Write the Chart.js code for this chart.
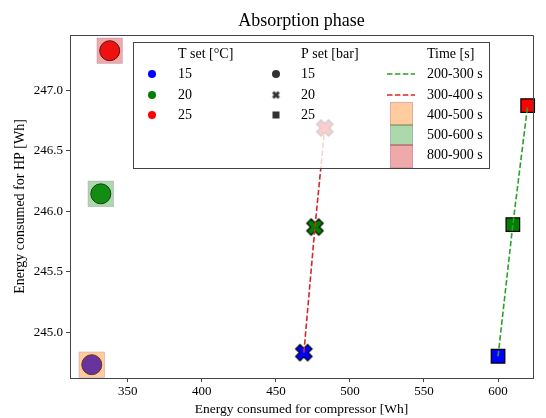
<!DOCTYPE html>
<html>
<head>
<meta charset="utf-8">
<script src="https://cdn.jsdelivr.net/npm/chart.js@4.4.1/dist/chart.umd.min.js"></script>
<style>
  html, body { margin: 0; padding: 0; background: #fff; overflow: hidden; }
  #wrap { width: 546px; height: 418px; }
</style>
</head>
<body>
<div id="wrap"><canvas id="chart"></canvas></div>
<script>
// data
const tSet = [15, 20, 25];          // T set [°C]
const pSet = [15, 20, 25];          // P set [bar]

// P = 15 bar (circles), order T = 15, 20, 25
const circleX = [325.7, 331.8, 337.8];
const circleY = [244.73, 246.145, 247.33];
// P = 20 bar (crosses)
const crossX = [468.9, 476.4, 483.0];
const crossY = [244.83, 245.87, 246.69];
// P = 25 bar (squares)
const squareX = [600.0, 610.0, 620.0];
const squareY = [244.80, 245.89, 246.875];

const timeLabels = ['200-300 s', '300-400 s', '400-500 s', '500-600 s', '800-900 s'];

const xTicks = [350, 400, 450, 500, 550, 600];
const yTicks = [245.0, 245.5, 246.0, 246.5, 247.0];

const chartTitle = 'Absorption phase';

// styles
const FONT = "'Liberation Serif', 'DejaVu Serif', serif";
const tColors = ['#0000ff', '#008000', '#ff0000'];
const patchColors = ['rgba(255,127,14,0.4)', 'rgba(44,160,44,0.4)', 'rgba(214,39,40,0.4)'];
const lineGreen = '#2ca02c';
const lineRed = '#d62728';

// filled "X" marker like matplotlib
function makeX(color, half, stroke) {
    const size = Math.ceil(half * 2 + 4);
    const c = document.createElement('canvas');
    c.width = size;
    c.height = size;
    const g = c.getContext('2d');
    const s = half * 0.74;
    const w = s * 0.36;
    const pts = [
        [-w, -s], [w, -s], [w, -w], [s, -w], [s, w], [w, w],
        [w, s], [-w, s], [-w, w], [-s, w], [-s, -w], [-w, -w]
    ];
    const a = Math.PI / 4;
    g.translate(size / 2, size / 2);
    g.beginPath();
    pts.forEach((p, i) => {
        const x = p[0] * Math.cos(a) - p[1] * Math.sin(a);
        const y = p[0] * Math.sin(a) + p[1] * Math.cos(a);
        if (i === 0) g.moveTo(x, y); else g.lineTo(x, y);
    });
    g.closePath();
    g.fillStyle = color;
    g.fill();
    if (stroke) {
        g.lineWidth = 1.2;
        g.strokeStyle = '#000';
        g.stroke();
    }
    return c;
}

const datasets = [];

// markers
tSet.forEach((t, i) => {
    datasets.push({
        label: 'circle ' + t,
        data: [{x: circleX[i], y: circleY[i]}],
        pointStyle: 'circle',
        pointRadius: 10,
        backgroundColor: tColors[i],
        borderColor: '#000',
        borderWidth: 1,
        clip: false,
        order: 3
    });
    datasets.push({
        label: 'cross ' + t,
        data: [{x: crossX[i], y: crossY[i]}],
        pointStyle: makeX(tColors[i], 11.5, true),
        pointRadius: 12,
        clip: false,
        order: 3
    });
    datasets.push({
        label: 'square ' + t,
        data: [{x: squareX[i], y: squareY[i]}],
        pointStyle: 'rect',
        pointRadius: 9.6,
        backgroundColor: tColors[i],
        borderColor: '#000',
        borderWidth: 1.2,
        clip: false,
        order: 3
    });
});

// time patches over the circles (400-500, 500-600, 800-900 s)
tSet.forEach((t, i) => {
    datasets.push({
        label: timeLabels[i + 2],
        data: [{x: circleX[i], y: circleY[i]}],
        pointStyle: 'rect',
        pointRadius: 18,
        backgroundColor: patchColors[i],
        borderColor: 'rgba(170,120,170,0.35)',
        borderWidth: 1,
        clip: false,
        order: 2
    });
});

// dashed lines
datasets.push({
    label: timeLabels[0],
    type: 'line',
    data: squareX.map((x, i) => ({x: x, y: squareY[i]})),
    borderColor: lineGreen,
    borderWidth: 1.6,
    borderDash: [5.5, 2.4],
    pointRadius: 0,
    fill: false,
    order: 1
});
datasets.push({
    label: timeLabels[1],
    type: 'line',
    data: crossX.map((x, i) => ({x: x, y: crossY[i]})),
    borderColor: lineRed,
    borderWidth: 1.6,
    borderDash: [5.5, 2.4],
    pointRadius: 0,
    fill: false,
    order: 1
});

// title, frame and legend box
const customLegend = {
    id: 'customLegend',
    afterDraw(chart) {
        const ctx = chart.ctx;
        const a = chart.chartArea;

        ctx.save();
        // title centred over the plot area
        ctx.font = '18px ' + FONT;
        ctx.fillStyle = '#000';
        ctx.textAlign = 'center';
        ctx.textBaseline = 'middle';
        ctx.fillText(chartTitle, (a.left + a.right) / 2, 21);

        // top & right spines
        ctx.strokeStyle = '#444';
        ctx.lineWidth = 1;
        ctx.beginPath();
        ctx.moveTo(a.left, a.top + 0.5);
        ctx.lineTo(a.right + 0.5, a.top + 0.5);
        ctx.lineTo(a.right + 0.5, a.bottom);
        ctx.stroke();

        const bx = 133, by = 42, bw = 356, bh = 126;
        ctx.fillStyle = 'rgba(255,255,255,0.8)';
        ctx.fillRect(bx, by, bw, bh);

        const rows = [74, 95, 115, 135, 155];
        ctx.font = '14px ' + FONT;
        ctx.fillStyle = '#000';
        ctx.textAlign = 'left';
        ctx.fillText('T set [°C]', 178, 54);
        ctx.fillText('P set [bar]', 301, 54);
        ctx.fillText('Time [s]', 427, 54);

        // T set
        tSet.forEach((t, i) => {
            ctx.beginPath();
            ctx.arc(152, rows[i], 4, 0, Math.PI * 2);
            ctx.fillStyle = tColors[i];
            ctx.fill();
            ctx.fillStyle = '#000';
            ctx.fillText(String(t), 178, rows[i]);
        });

        // P set
        ctx.fillStyle = '#333';
        ctx.beginPath();
        ctx.arc(276, rows[0], 4, 0, Math.PI * 2);
        ctx.fill();
        const xm = makeX('#333', 5.5, false);
        ctx.drawImage(xm, 276 - xm.width / 2, rows[1] - xm.height / 2);
        ctx.fillRect(272.5, rows[2] - 3.5, 7, 7);
        ctx.fillStyle = '#000';
        pSet.forEach((p, i) => ctx.fillText(String(p), 301, rows[i]));

        // Time lines
        ctx.lineWidth = 1.6;
        ctx.setLineDash([5.5, 2.4]);
        [lineGreen, lineRed].forEach((c, i) => {
            ctx.strokeStyle = c;
            ctx.beginPath();
            ctx.moveTo(387, rows[i]);
            ctx.lineTo(415, rows[i]);
            ctx.stroke();
        });
        ctx.setLineDash([]);

        // Time patches
        const patchTop = [102, 124, 144];
        const patchBot = [126, 146, 168];
        patchColors.forEach((c, i) => {
            ctx.fillStyle = c;
            ctx.fillRect(390, patchTop[i], 23, patchBot[i] - patchTop[i]);
            ctx.strokeStyle = 'rgba(170,120,170,0.35)';
            ctx.lineWidth = 1;
            ctx.strokeRect(390.5, patchTop[i] + 0.5, 22, patchBot[i] - patchTop[i] - 1);
        });

        ctx.fillStyle = '#000';
        timeLabels.forEach((l, i) => ctx.fillText(l, 427, rows[i]));

        ctx.strokeStyle = '#444';
        ctx.lineWidth = 1;
        ctx.strokeRect(bx + 0.5, by + 0.5, bw, bh);
        ctx.restore();
    }
};

Chart.defaults.font.family = FONT;
Chart.defaults.color = '#000';

new Chart(document.getElementById('chart'), {
    type: 'scatter',
    data: { datasets: datasets },
    options: {
        responsive: true,
        maintainAspectRatio: false,
        animation: false,
        layout: {
            autoPadding: false,
            padding: { left: 0, right: 13, top: 35, bottom: 0 }
        },
        plugins: {
            legend: { display: false },
            tooltip: { enabled: false },
            title: { display: false }
        },
        scales: {
            x: {
                type: 'linear',
                min: 311,
                max: 623.6,
                afterBuildTicks: s => { s.ticks = xTicks.map(v => ({value: v})); },
                afterFit: s => {
                    s.height = 40;
                    s.paddingLeft = 0;
                    s.paddingRight = 0;
                },
                ticks: { font: { size: 13 }, padding: 2 },
                grid: { drawOnChartArea: false, tickLength: 4, color: '#444' },
                border: { color: '#444', width: 1 },
                title: {
                    display: true,
                    text: 'Energy consumed for compressor [Wh]',
                    font: { size: 13.5 },
                    padding: { top: 0, bottom: 0 }
                }
            },
            y: {
                type: 'linear',
                min: 244.62,
                max: 247.46,
                afterBuildTicks: s => { s.ticks = yTicks.map(v => ({value: v})); },
                afterFit: s => {
                    s.width = 70;
                    s.paddingTop = 0;
                    s.paddingBottom = 0;
                },
                ticks: { font: { size: 13 }, padding: 3, callback: v => Number(v).toFixed(1) },
                grid: { drawOnChartArea: false, tickLength: 4, color: '#444' },
                border: { color: '#444', width: 1 },
                title: {
                    display: true,
                    text: 'Energy consumed for HP [Wh]',
                    font: { size: 14 },
                    padding: { top: 12, bottom: 0 }
                }
            }
        }
    },
    plugins: [customLegend]
});
</script>
</body>
</html>
